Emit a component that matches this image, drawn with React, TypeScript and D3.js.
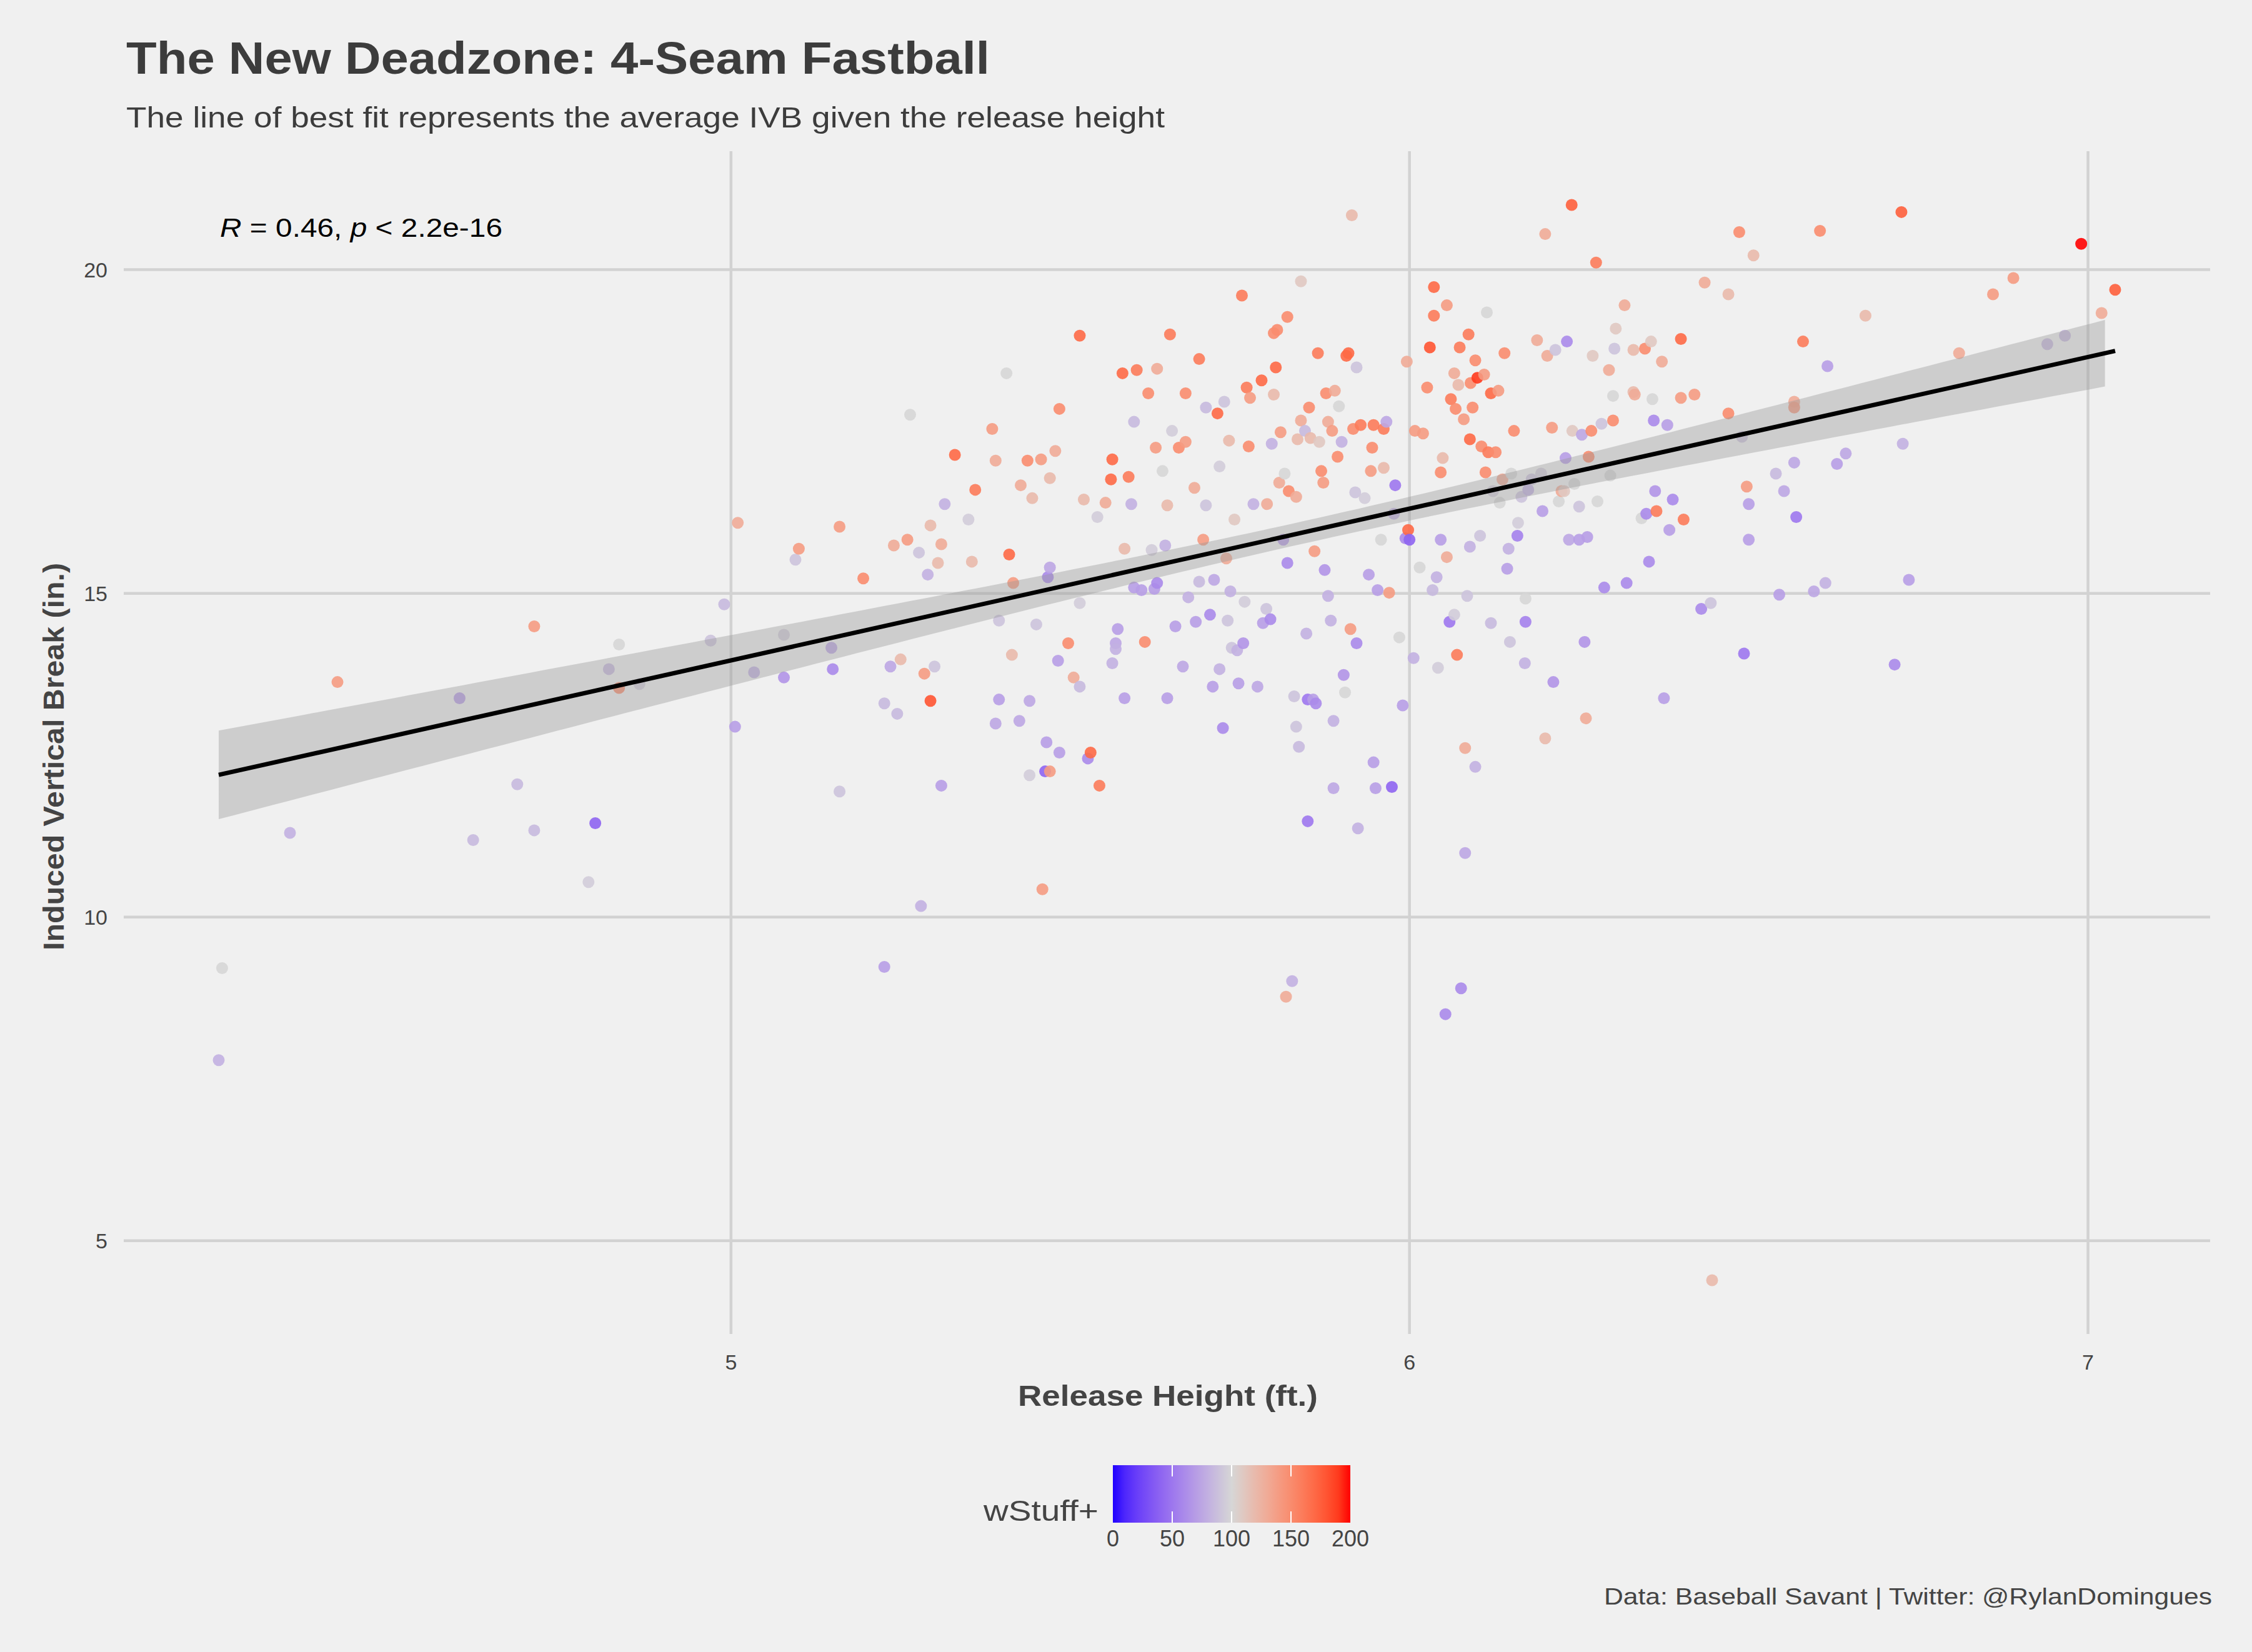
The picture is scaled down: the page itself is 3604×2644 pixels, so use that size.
import { useEffect, useRef } from 'react';
import * as d3 from 'd3';

// [release height (ft), IVB (in), wStuff+]
const pitchers: [number, number, number][] = [
  [4.245, 7.79, 80], [4.25, 9.21, 100], [4.35, 11.3, 80], [4.42, 13.63, 140], [4.6, 13.38, 70],
  [4.62, 11.19, 85], [4.685, 12.05, 85], [4.71, 11.34, 85], [4.71, 14.49, 140], [4.79, 10.54, 95],
  [4.8, 11.45, 40], [4.82, 13.83, 85], [4.835, 14.21, 100], [4.835, 13.54, 150], [4.865, 13.6, 95],
  [4.97, 14.27, 90], [4.99, 14.83, 85], [5.006, 12.94, 70], [5.01, 16.09, 130], [5.034, 13.78, 80],
  [5.078, 13.7, 65], [5.078, 14.36, 95], [5.095, 15.52, 90], [5.1, 15.69, 140], [5.148, 14.16, 75],
  [5.15, 13.83, 60], [5.16, 11.94, 90], [5.16, 16.03, 140], [5.195, 15.23, 150], [5.226, 13.3, 85],
  [5.226, 9.23, 70], [5.235, 13.87, 75], [5.24, 15.74, 130], [5.245, 13.14, 85], [5.25, 13.98, 120],
  [5.26, 15.83, 140], [5.264, 17.76, 100], [5.277, 15.63, 90], [5.28, 10.17, 80], [5.285, 13.76, 140],
  [5.294, 13.34, 180], [5.29, 15.29, 80], [5.294, 16.05, 120], [5.3, 13.87, 90], [5.31, 12.03, 70],
  [5.31, 15.76, 130], [5.305, 15.47, 120], [5.315, 16.38, 80], [5.33, 17.14, 170], [5.35, 16.14, 95],
  [5.355, 15.49, 120], [5.36, 16.6, 160], [5.385, 17.54, 140], [5.39, 17.05, 130], [5.39, 12.99, 75],
  [5.395, 13.36, 70], [5.395, 14.58, 90], [5.406, 18.4, 100], [5.41, 15.6, 170], [5.414, 14.05, 120],
  [5.416, 15.16, 140], [5.425, 13.03, 75], [5.427, 16.67, 130], [5.437, 17.05, 150], [5.44, 13.34, 75],
  [5.45, 14.52, 90], [5.44, 12.19, 95], [5.444, 16.47, 120], [5.457, 17.07, 140], [5.459, 10.43, 140],
  [5.463, 12.25, 40], [5.47, 12.25, 140], [5.465, 12.7, 70], [5.467, 15.25, 60], [5.47, 15.4, 75],
  [5.47, 16.78, 120], [5.478, 17.2, 130], [5.482, 13.96, 70], [5.484, 12.54, 70], [5.484, 17.85, 150],
  [5.497, 14.23, 150], [5.505, 13.7, 130], [5.514, 13.56, 85], [5.514, 18.98, 170], [5.514, 14.85, 95],
  [5.52, 16.45, 120], [5.526, 12.45, 60], [5.53, 12.54, 170], [5.54, 16.18, 95], [5.543, 12.03, 160],
  [5.552, 16.4, 130], [5.562, 17.07, 170], [5.56, 16.76, 170], [5.562, 13.92, 80], [5.567, 14.23, 75],
  [5.567, 14.14, 80], [5.57, 14.45, 70], [5.577, 18.4, 170], [5.58, 13.38, 70], [5.58, 15.69, 120],
  [5.586, 16.8, 160], [5.59, 16.38, 80], [5.594, 15.09, 70], [5.598, 18.45, 160], [5.594, 17.65, 85],
  [5.605, 15.05, 70], [5.61, 14.25, 150], [5.615, 18.09, 150], [5.62, 15.67, 95], [5.624, 15.07, 70],
  [5.626, 17.25, 140], [5.628, 18.47, 130], [5.628, 15.16, 60], [5.636, 16.89, 100], [5.64, 15.74, 80],
  [5.643, 16.36, 120], [5.643, 13.38, 70], [5.647, 19.0, 160], [5.65, 17.51, 95], [5.655, 14.49, 70],
  [5.66, 17.25, 150], [5.666, 13.87, 75], [5.67, 18.09, 150], [5.67, 17.34, 140], [5.674, 14.94, 80],
  [5.683, 16.63, 130], [5.685, 14.56, 70], [5.69, 15.18, 85], [5.69, 18.62, 160], [5.696, 15.83, 140],
  [5.7, 16.36, 90], [5.7, 17.87, 85], [5.706, 14.67, 60], [5.71, 13.56, 70], [5.712, 15.21, 75],
  [5.717, 17.78, 170], [5.72, 13.83, 80], [5.72, 16.96, 95], [5.725, 12.92, 60], [5.727, 17.96, 90],
  [5.73, 15.54, 130], [5.732, 14.58, 90], [5.734, 17.36, 120], [5.736, 15.03, 80], [5.738, 14.16, 90],
  [5.742, 16.14, 110], [5.746, 14.12, 80], [5.748, 13.61, 70], [5.753, 19.6, 160], [5.755, 14.23, 65],
  [5.757, 14.87, 95], [5.76, 18.18, 160], [5.763, 17.27, 150], [5.765, 18.02, 140], [5.77, 16.38, 80],
  [5.776, 13.56, 75], [5.782, 18.29, 170], [5.784, 14.54, 70], [5.789, 14.76, 90], [5.79, 16.38, 130],
  [5.795, 14.6, 60], [5.797, 17.31, 80], [5.8, 18.07, 120], [5.8, 19.02, 150], [5.803, 18.49, 170],
  [5.805, 19.07, 150], [5.808, 16.71, 130], [5.81, 17.49, 140], [5.814, 15.83, 70], [5.816, 16.85, 100],
  [5.82, 19.27, 150], [5.82, 15.47, 60], [5.822, 16.58, 150], [5.827, 9.01, 80], [5.818, 8.77, 130],
  [5.83, 13.41, 90], [5.833, 12.94, 90], [5.833, 16.49, 130], [5.835, 17.38, 120], [5.837, 12.63, 85],
  [5.84, 19.82, 110], [5.84, 17.67, 130], [5.846, 17.51, 85], [5.85, 13.36, 50], [5.848, 14.38, 80],
  [5.85, 11.48, 50], [5.852, 17.87, 150], [5.854, 17.4, 120], [5.858, 13.36, 70], [5.86, 15.65, 140],
  [5.862, 13.3, 60], [5.865, 18.71, 160], [5.867, 17.34, 110], [5.87, 16.89, 150], [5.873, 16.71, 140],
  [5.875, 15.36, 65], [5.877, 18.09, 150], [5.88, 17.65, 130], [5.88, 14.96, 80], [5.884, 14.58, 80],
  [5.886, 17.51, 140], [5.888, 13.03, 80], [5.888, 11.99, 75], [5.89, 18.13, 130], [5.894, 17.11, 150],
  [5.896, 17.89, 100], [5.9, 17.34, 80], [5.903, 13.74, 65], [5.905, 13.47, 100], [5.907, 18.67, 170],
  [5.91, 18.71, 170], [5.913, 14.45, 140], [5.915, 20.84, 120], [5.917, 17.54, 150], [5.92, 16.56, 90],
  [5.922, 14.23, 60], [5.922, 18.49, 90], [5.924, 11.37, 80], [5.928, 17.6, 160], [5.934, 16.47, 95],
  [5.94, 15.29, 70], [5.943, 16.89, 140], [5.945, 17.25, 150], [5.947, 17.6, 160], [5.947, 12.39, 70],
  [5.95, 11.99, 70], [5.953, 15.05, 70], [5.958, 15.83, 100], [5.962, 16.94, 120], [5.962, 17.54, 160],
  [5.966, 17.65, 75], [5.97, 15.01, 140], [5.974, 12.01, 40], [5.977, 16.23, 80], [5.979, 16.67, 50],
  [5.985, 14.32, 100], [5.99, 13.27, 70], [5.994, 15.85, 60], [5.996, 18.58, 130], [5.998, 15.98, 170],
  [6.0, 15.83, 40], [6.006, 14.0, 80], [6.008, 17.51, 140], [6.015, 15.4, 100], [6.02, 17.47, 140],
  [6.026, 18.18, 150], [6.03, 18.8, 180], [6.034, 15.05, 85], [6.036, 19.29, 160], [6.036, 19.73, 170],
  [6.04, 15.25, 80], [6.042, 13.85, 95], [6.046, 16.87, 150], [6.046, 15.83, 70], [6.049, 17.09, 120],
  [6.053, 8.5, 60], [6.055, 19.45, 140], [6.055, 15.56, 130], [6.059, 14.56, 50], [6.061, 18.0, 160],
  [6.066, 14.67, 95], [6.066, 18.4, 130], [6.068, 17.85, 150], [6.07, 14.05, 160], [6.072, 18.22, 120],
  [6.074, 18.8, 160], [6.076, 8.9, 60], [6.08, 17.69, 140], [6.082, 10.99, 75], [6.082, 12.61, 130],
  [6.085, 14.96, 90], [6.087, 19.0, 160], [6.089, 17.38, 170], [6.09, 18.25, 150], [6.089, 15.72, 80],
  [6.093, 17.87, 150], [6.097, 18.6, 150], [6.097, 12.32, 80], [6.1, 18.33, 190], [6.104, 15.89, 90],
  [6.106, 17.27, 150], [6.11, 18.38, 140], [6.112, 16.87, 150], [6.114, 19.34, 100], [6.116, 17.18, 160],
  [6.12, 18.09, 170], [6.12, 14.54, 85], [6.123, 16.58, 95], [6.127, 17.18, 150], [6.131, 18.13, 140],
  [6.133, 16.4, 100], [6.137, 16.76, 130], [6.14, 18.71, 150], [6.144, 15.38, 70], [6.146, 15.69, 80],
  [6.148, 14.25, 90], [6.15, 16.85, 100], [6.154, 17.51, 150], [6.159, 15.89, 55], [6.16, 16.09, 95],
  [6.165, 16.49, 90], [6.17, 13.92, 80], [6.171, 14.92, 100], [6.171, 14.56, 55], [6.175, 16.6, 80],
  [6.18, 16.76, 90], [6.188, 18.91, 130], [6.194, 16.85, 95], [6.196, 16.27, 70], [6.2, 20.55, 130],
  [6.2, 12.76, 120], [6.203, 18.67, 130], [6.21, 17.56, 140], [6.212, 13.63, 65], [6.215, 18.76, 90],
  [6.22, 16.42, 100], [6.224, 16.58, 130], [6.228, 16.58, 110], [6.23, 17.09, 70], [6.232, 18.89, 60],
  [6.235, 15.83, 75], [6.239, 21.0, 175], [6.24, 17.51, 110], [6.243, 16.69, 100], [6.25, 15.83, 70],
  [6.25, 16.34, 90], [6.254, 17.45, 75], [6.258, 14.25, 65], [6.26, 13.07, 130], [6.262, 15.87, 70],
  [6.264, 17.11, 150], [6.268, 17.51, 150], [6.27, 18.67, 110], [6.275, 20.11, 160], [6.277, 16.42, 100],
  [6.283, 17.62, 90], [6.287, 15.09, 60], [6.294, 18.45, 130], [6.296, 16.82, 100], [6.3, 18.05, 100],
  [6.3, 17.67, 150], [6.302, 18.78, 90], [6.304, 19.09, 110], [6.317, 19.45, 130], [6.32, 15.16, 60],
  [6.33, 18.76, 120], [6.33, 18.11, 120], [6.332, 18.07, 130], [6.342, 16.16, 100], [6.347, 18.78, 150],
  [6.349, 16.23, 60], [6.353, 15.49, 60], [6.356, 18.89, 110], [6.358, 18.0, 100], [6.36, 17.67, 60],
  [6.362, 16.58, 65], [6.364, 16.27, 160], [6.372, 18.58, 130], [6.375, 13.38, 70], [6.38, 17.6, 70],
  [6.383, 15.98, 70], [6.388, 16.45, 60], [6.4, 18.93, 170], [6.4, 18.02, 140], [6.404, 16.14, 160],
  [6.42, 18.07, 140], [6.43, 14.76, 60], [6.435, 19.8, 130], [6.444, 14.85, 90], [6.446, 4.39, 120],
  [6.47, 17.78, 150], [6.47, 19.62, 120], [6.486, 20.58, 150], [6.49, 17.42, 90], [6.493, 14.07, 50],
  [6.5, 15.83, 70], [6.5, 16.38, 70], [6.507, 20.22, 120], [6.497, 16.65, 140], [6.54, 16.85, 85],
  [6.545, 14.98, 70], [6.552, 16.58, 75], [6.567, 17.96, 130], [6.567, 17.87, 140], [6.567, 17.02, 75],
  [6.57, 16.18, 50], [6.58, 18.89, 160], [6.596, 15.03, 75], [6.605, 20.6, 150], [6.613, 15.16, 80],
  [6.616, 18.51, 70], [6.63, 17.0, 70], [6.643, 17.16, 75], [6.672, 19.29, 120], [6.715, 13.9, 60],
  [6.725, 20.89, 175], [6.727, 17.31, 80], [6.736, 15.21, 70], [6.81, 18.71, 130], [6.86, 19.62, 140],
  [6.89, 19.87, 140], [6.94, 18.85, 85], [6.966, 18.98, 85], [6.99, 20.4, 200], [7.02, 19.33, 130],
  [7.04, 19.69, 175],
];

const xTicks = [5, 6, 7];
const yTicks = [5, 10, 15, 20];
const legendTicks = [0, 50, 100, 150, 200];
// linear fit: IVB = intercept + slope * height
const fitIntercept = 2.25;
const fitSlope = 2.343;
const fitMean = 5.85;
const fitRange = [4.245, 7.04];

export default function App() {
  const ref = useRef<SVGSVGElement | null>(null);

  useEffect(() => {
    const W = 3604, H = 2644;
    const svg = d3.select(ref.current);
    svg.selectAll('*').remove();
    svg.attr('width', W).attr('height', H);
    const font = '"Liberation Sans", Arial, sans-serif';

    // text stretched to the reference widths
    const label = (sel: any, len: number) =>
      sel.attr('textLength', len).attr('lengthAdjust', 'spacingAndGlyphs');

    svg.append('rect').attr('width', W).attr('height', H).attr('fill', '#f0f0f0');

    const x = d3.scaleLinear().domain([4.105, 7.18]).range([198, 3537]);
    const y = d3.scaleLinear().domain([3.56, 21.83]).range([2135, 242]);
    const color = d3.scaleLinear<string>()
      .domain([0, 100, 200])
      .range(['#1f00ff', '#d6d6d6', '#ff0000'])
      .interpolate(d3.interpolateLab);

    const g = svg.append('g');
    g.selectAll('.gy').data(yTicks).enter().append('line')
      .attr('x1', 198).attr('x2', 3537)
      .attr('y1', d => y(d)).attr('y2', d => y(d))
      .attr('stroke', '#d2d2d2').attr('stroke-width', 4.5);
    g.selectAll('.gx').data(xTicks).enter().append('line')
      .attr('y1', 242).attr('y2', 2135)
      .attr('x1', d => x(d)).attr('x2', d => x(d))
      .attr('stroke', '#d2d2d2').attr('stroke-width', 4.5);

    g.selectAll('circle').data(pitchers).enter().append('circle')
      .attr('cx', d => x(d[0])).attr('cy', d => y(d[1])).attr('r', 9.5)
      .attr('fill', d => color(d[2])).attr('opacity', 0.9);

    // fit band + line
    const xs = d3.range(fitRange[0], fitRange[1] + 0.001, 0.02);
    const fit = (v: number) => fitIntercept + fitSlope * v;
    const hw = (v: number) => Math.sqrt(0.03 + 0.17 * (v - fitMean) ** 2);
    g.append('path')
      .attr('d', d3.area<number>().x(d => x(d)).y0(d => y(fit(d) - hw(d))).y1(d => y(fit(d) + hw(d)))(xs))
      .attr('fill', '#999999').attr('opacity', 0.4);
    g.append('path')
      .attr('d', d3.line<number>().x(d => x(d)).y(d => y(fit(d)))(fitRange))
      .attr('stroke', '#000').attr('stroke-width', 7).attr('fill', 'none');

    // axis labels
    g.selectAll('.ty').data(yTicks).enter().append('text')
      .attr('x', 172).attr('y', d => y(d) + 12).attr('text-anchor', 'end')
      .attr('font-family', font).attr('font-size', 34).attr('fill', '#444').text(d => d);
    g.selectAll('.tx').data(xTicks).enter().append('text')
      .attr('x', d => x(d)).attr('y', 2192).attr('text-anchor', 'middle')
      .attr('font-family', font).attr('font-size', 34).attr('fill', '#444').text(d => d);

    label(svg.append('text').attr('x', 1869 - 240).attr('y', 2250)
      .attr('font-family', font).attr('font-size', 46).attr('font-weight', 'bold').attr('fill', '#444')
      .text('Release Height (ft.)'), 480);
    label(svg.append('text').attr('transform', `translate(102,${1211 + 310}) rotate(-90)`)
      .attr('font-family', font).attr('font-size', 46).attr('font-weight', 'bold').attr('fill', '#444')
      .text('Induced Vertical Break (in.)'), 620);

    label(svg.append('text').attr('x', 202).attr('y', 118)
      .attr('font-family', font).attr('font-size', 72).attr('font-weight', 'bold').attr('fill', '#3c3c3c')
      .text('The New Deadzone: 4-Seam Fastball'), 1382);
    label(svg.append('text').attr('x', 202).attr('y', 204)
      .attr('font-family', font).attr('font-size', 46).attr('fill', '#3c3c3c')
      .text('The line of best fit represents the average IVB given the release height'), 1662);

    const ann = label(svg.append('text').attr('x', 352).attr('y', 379)
      .attr('font-family', font).attr('font-size', 42).attr('fill', '#000'), 452);
    ann.append('tspan').attr('font-style', 'italic').text('R');
    ann.append('tspan').text(' = 0.46, ');
    ann.append('tspan').attr('font-style', 'italic').text('p');
    ann.append('tspan').text(' < 2.2e-16');

    // legend
    const lx = d3.scaleLinear().domain([0, 200]).range([1781, 2161]);
    const defs = svg.append('defs');
    const grad = defs.append('linearGradient').attr('id', 'lg');
    d3.range(0, 201, 10).forEach(v => {
      grad.append('stop').attr('offset', `${v / 2}%`).attr('stop-color', color(v));
    });
    svg.append('rect').attr('x', 1781).attr('y', 2345).attr('width', 380).attr('height', 92)
      .attr('fill', 'url(#lg)');
    [50, 100, 150].forEach(v => {
      svg.append('line').attr('x1', lx(v)).attr('x2', lx(v)).attr('y1', 2345).attr('y2', 2363)
        .attr('stroke', '#fff').attr('stroke-width', 2);
      svg.append('line').attr('x1', lx(v)).attr('x2', lx(v)).attr('y1', 2419).attr('y2', 2437)
        .attr('stroke', '#fff').attr('stroke-width', 2);
    });
    svg.selectAll('.lt').data(legendTicks).enter().append('text')
      .attr('x', d => lx(d)).attr('y', 2475).attr('text-anchor', 'middle')
      .attr('font-family', font).attr('font-size', 36).attr('fill', '#444').text(d => d);
    label(svg.append('text').attr('x', 1758 - 184).attr('y', 2434)
      .attr('font-family', font).attr('font-size', 46).attr('fill', '#444').text('wStuff+'), 184);

    label(svg.append('text').attr('x', 3540 - 973).attr('y', 2568)
      .attr('font-family', font).attr('font-size', 36).attr('fill', '#444')
      .text('Data: Baseball Savant | Twitter: @RylanDomingues'), 973);
  }, []);

  return <svg ref={ref} style={{ position: 'absolute', left: 0, top: 0, display: 'block' }} />;
}
